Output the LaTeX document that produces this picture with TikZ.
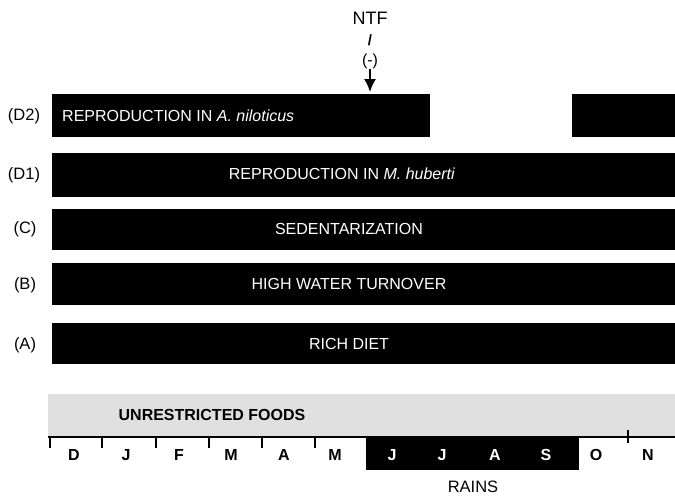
\documentclass[tikz,border=0pt]{standalone}
\usepackage{fontspec}
\setmainfont{Liberation Sans}
\usetikzlibrary{arrows.meta}
\begin{document}
\begin{tikzpicture}[x=1pt,y=-1pt,
  bar/.style={fill=black,draw=none,inner sep=0pt,anchor=north west},
  foods/.style={fill=black!12,draw=none,inner sep=0pt,anchor=north west},
  bartext/.style={text=white,font=\fontsize{16}{18}\selectfont,inner sep=0pt},
  rowlab/.style={font=\fontsize{16.5}{18}\selectfont,inner sep=0pt},
  month/.style={font=\bfseries\fontsize{16}{18}\selectfont,inner sep=0pt},
  wmonth/.style={month,text=white},
  plain/.style={font=\fontsize{18}{20}\selectfont,inner sep=0pt},
  tick/.style={line width=1.8pt}]
\useasboundingbox (0,0) rectangle (675,496);
% bars
\node[bar,minimum width=378,minimum height=43] (d2a) at (52,94) {};
\node[bar,minimum width=103,minimum height=43] (d2b) at (572,94) {};
\node[bar,minimum width=623,minimum height=44] (d1) at (52,153) {};
\node[bar,minimum width=623,minimum height=41] (c) at (52,209) {};
\node[bar,minimum width=623,minimum height=42] (b) at (52,263) {};
\node[bar,minimum width=623,minimum height=41] (a) at (52,323) {};
\node[foods,minimum width=627,minimum height=43] (f) at (48,394) {};
% bar texts
\node[bartext,anchor=west] (td2) at (62,116) {REPRODUCTION IN \textit{A. niloticus}};
\node[bartext] (td1) at (342,174) {REPRODUCTION IN \textit{M. huberti}};
\node[bartext] (tc) at (349,229) {SEDENTARIZATION};
\node[bartext] (tb) at (349,284) {HIGH WATER TURNOVER};
\node[bartext] (ta) at (349,344) {RICH DIET};
\node[font=\bfseries\fontsize{16}{18}\selectfont,inner sep=0pt] (tf) at (212,415) {UNRESTRICTED FOODS};
% row labels
\node[rowlab] (ld2) at (24,116) {(D2)};
\node[rowlab] (ld1) at (24,175) {(D1)};
\node[rowlab] (lc) at (25,229) {(C)};
\node[rowlab] (lb) at (25,285) {(B)};
\node[rowlab] (la) at (25,345) {(A)};
% NTF
\node[plain] (ntf) at (370,18) {NTF};
\node[plain,font=\bfseries\fontsize{15}{17}\selectfont] (sl) at (370,40) {/};
\node[plain,font=\fontsize{16}{18}\selectfont] (neg) at (370,61) {(-)};
\coordinate (tip) at (370,92);
\draw[line width=1.8pt,-{Latex[length=13pt,width=12pt]}] (neg.south) -- (tip);
% rains
\node[bar,minimum width=213,minimum height=33] (rains) at (366,437) {};
\node[plain,font=\fontsize{16.5}{18}\selectfont] (rl) at (473,487) {RAINS};
% axis
\coordinate (ax0) at (48,437);
\coordinate (ax1) at (675,437);
\draw[line width=2pt] (ax0) -- (ax1);
\foreach \x in {50,102,156,209,262,315}{
  \coordinate (t\x) at (\x,437);
  \coordinate (u\x) at (\x,448);
  \draw[tick] (t\x) -- (u\x);
}
\coordinate (t628) at (628,430);
\coordinate (u628) at (628,443);
\draw[tick] (t628) -- (u628);
% months
\node[month] (m1) at (74,455) {D};
\node[month] (m2) at (126,455) {J};
\node[month] (m3) at (179,455) {F};
\node[month] (m4) at (231,455) {M};
\node[month] (m5) at (284,455) {A};
\node[month] (m6) at (335,455) {M};
\node[wmonth] (m7) at (392,455) {J};
\node[wmonth] (m8) at (442,455) {J};
\node[wmonth] (m9) at (495,455) {A};
\node[wmonth] (m10) at (546,455) {S};
\node[month] (m11) at (596,455) {O};
\node[month] (m12) at (648,455) {N};
\end{tikzpicture}
\end{document}
